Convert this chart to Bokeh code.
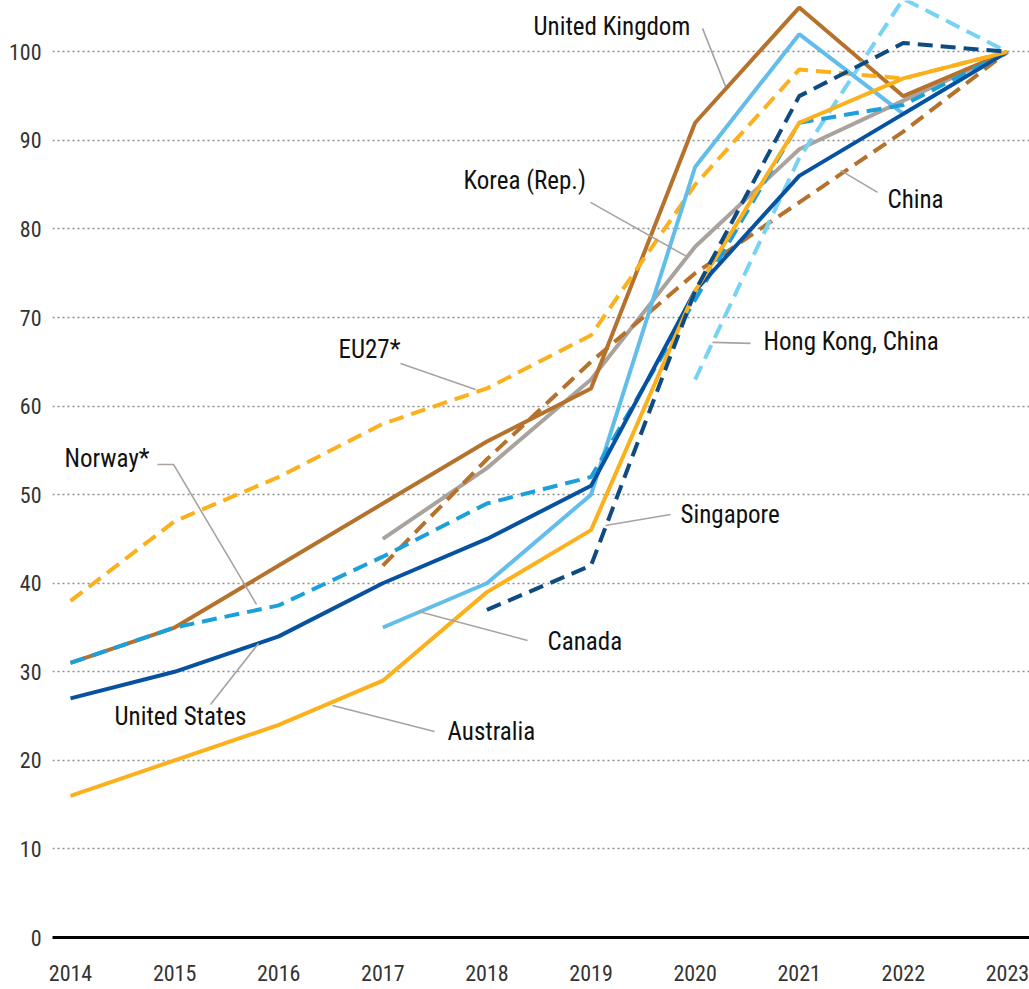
from bokeh.plotting import figure
from bokeh.models import Range1d, FixedTicker
from bokeh.core.properties import value
from bokeh.embed import file_html
from bokeh.resources import INLINE

# ---------------- data (index, 2023 = 100) ----------------
years = [2014, 2015, 2016, 2017, 2018, 2019, 2020, 2021, 2022, 2023]

united_kingdom = [31, 35, 42, 49, 56, 62, 92, 105, 95, 100]
eu27 = [38, 47, 52, 58, 62, 68, 85, 98, 97, 100]
norway = [31, 35, 37.5, 43, 49, 52, 72, 92, 94, 100]
united_states = [27, 30, 34, 40, 45, 51, 73, 86, 93, 100]
australia = [16, 20, 24, 29, 39, 46, 73, 92, 97, 100]
canada = [None, None, None, 35, 40, 50, 87, 102, 93, 100]
korea = [None, None, None, 45, 53, 63, 78, 89, 94.5, 100]
china = [None, None, None, 42, 54, 65, 75, 83, 91, 100]
singapore = [None, None, None, None, 37, 42, 73, 95, 101, 100]
hong_kong = [None, None, None, None, None, None, 63, 88, 106, 100]

y_ticks = [0, 10, 20, 30, 40, 50, 60, 70, 80, 90, 100]

FONT = "Roboto Condensed, Roboto"

BROWN = "#B4722D"
ORANGE = "#FBB01C"
LIGHTBLUE = "#62BDEA"
SKY = "#78D2F6"
MIDBLUE = "#1BA0DB"
NAVY = "#0752A0"
DARKNAVY = "#0E4B80"
GREY = "#A9A29D"
DASH = "15 8"

p = figure(width=1029, height=989,
           x_range=Range1d(2013.827, 2023.212), y_range=Range1d(0, 105.8),
           output_backend="svg", toolbar_location=None,
           min_border_left=52, min_border_right=0, min_border_top=0,
           min_border_bottom=52)
p.outline_line_color = None
p.background_fill_color = "white"
p.border_fill_color = "white"

p.xgrid.visible = False
p.ygrid.ticker = FixedTicker(ticks=y_ticks[1:])
p.ygrid.grid_line_color = "#8c8c8c"
p.ygrid.grid_line_width = 1.6
p.ygrid.grid_line_dash = "2 3"

p.yaxis.ticker = FixedTicker(ticks=y_ticks)
p.yaxis.axis_line_color = None
p.yaxis.major_tick_line_color = None
p.yaxis.minor_tick_line_color = None
p.yaxis.major_tick_out = 0
p.yaxis.major_label_standoff = 11
p.yaxis.major_label_text_font = FONT
p.yaxis.major_label_text_font_size = "22px"
p.yaxis.major_label_text_color = "#333333"

p.xaxis.ticker = FixedTicker(ticks=years)
p.xaxis.axis_line_color = "black"
p.xaxis.axis_line_width = 3
p.xaxis.major_tick_line_color = None
p.xaxis.minor_tick_line_color = None
p.xaxis.major_tick_out = 0
p.xaxis.major_label_standoff = 27
p.xaxis.major_label_text_font = FONT
p.xaxis.major_label_text_font_size = "22px"
p.xaxis.major_label_text_color = "#333333"

series = [
    (korea, GREY, "solid"),
    (china, BROWN, DASH),
    (united_kingdom, BROWN, "solid"),
    (eu27, ORANGE, DASH),
    (canada, LIGHTBLUE, "solid"),
    (hong_kong, SKY, DASH),
    (norway, MIDBLUE, DASH),
    (united_states, NAVY, "solid"),
    (australia, ORANGE, "solid"),
    (singapore, DARKNAVY, DASH),
]
for vals, col, dash in series:
    xs = [yr for yr, v in zip(years, vals) if v is not None]
    ys = [v for v in vals if v is not None]
    p.line(xs, ys, line_color=col, line_width=4, line_dash=dash)


# ---- annotation placement helpers (pixel positions of the reference) ----
def X(px):
    return 2014 + (px - 70) / 104.1


def Y(py):
    return (937 - py) / 8.855


leaders = [
    [(702, 28), (725, 86)],                 # United Kingdom
    [(590, 202), (686, 256)],               # Korea
    [(877, 192), (840, 170)],               # China
    [(750, 343), (712, 342)],               # Hong Kong
    [(400, 363), (475, 389)],               # EU27
    [(157, 464), (173, 464), (256, 604)],   # Norway
    [(670, 514), (605, 525)],               # Singapore
    [(418, 611), (527, 640)],               # Canada
    [(210, 704), (258, 643)],               # United States
    [(332, 705), (434, 731)],               # Australia
]
p.multi_line([[X(a) for a, b in seg] for seg in leaders],
             [[Y(b) for a, b in seg] for seg in leaders],
             line_color=GREY, line_width=1.6)

label_text = ["United Kingdom", "Korea (Rep.)", "China", "Hong Kong, China",
              "EU27*", "Norway*", "Singapore", "Canada", "United States",
              "Australia"]
label_pos = [(533, 26), (463, 180), (887, 199), (763, 341), (338, 349),
             (64, 458), (680, 514), (547, 641), (114, 716), (447, 731)]
p.text(x=[X(a) for a, b in label_pos], y=[Y(b) for a, b in label_pos],
       text=label_text, text_font=value(FONT), text_font_size=value("25px"),
       text_color="#111111", text_baseline="middle", text_align="left")

open("out.html", "w").write(file_html(p, INLINE))
